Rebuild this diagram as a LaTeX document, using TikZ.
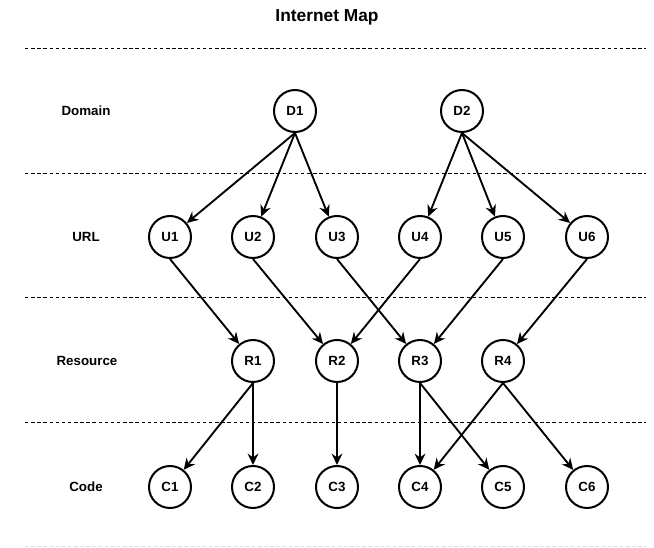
\documentclass[tikz,border=0pt]{standalone}
\usepackage{fontspec}
\setmainfont{Liberation Sans}
\usetikzlibrary{arrows.meta}
\begin{document}
\begin{tikzpicture}[x=0.75pt,y=-0.75pt,
  vtx/.style={circle,draw,line width=1.5pt,minimum size=42*0.75pt,inner sep=0pt,
    font=\bfseries\fontsize{10pt}{12pt}\selectfont},
  rowlabel/.style={font=\bfseries\fontsize{10pt}{12pt}\selectfont},
  sep/.style={dash pattern=on 2.6pt off 2pt,line width=0.75pt},
  link/.style={line width=1.4pt,-{Stealth[length=8.5pt,width=8pt,inset=2.8pt]}}]
\useasboundingbox (0,0) rectangle (654,548);

% title
\node[font=\bfseries\fontsize{13pt}{15pt}\selectfont] (title) at (327,17) {Internet Map};

% layer separators
\coordinate (s0l) at (25,49);  \coordinate (s0r) at (646,49);
\coordinate (s1l) at (25,174); \coordinate (s1r) at (646,174);
\coordinate (s2l) at (25,298); \coordinate (s2r) at (646,298);
\coordinate (s3l) at (25,423); \coordinate (s3r) at (646,423);
\coordinate (s4l) at (25,547); \coordinate (s4r) at (646,547);
\draw[sep] (s0l) -- (s0r);
\draw[sep] (s1l) -- (s1r);
\draw[sep] (s2l) -- (s2r);
\draw[sep] (s3l) -- (s3r);
\draw[sep,draw=black!13] (s4l) -- (s4r);

% row labels
\node[rowlabel] (lDomain) at (86,111) {Domain};
\node[rowlabel] (lURL) at (86,237) {URL};
\node[rowlabel] (lRes) at (87,361) {Resource};
\node[rowlabel] (lCode) at (86,487) {Code};

% domains
\node[vtx] (D1) at (295,111) {D1};
\node[vtx] (D2) at (462,111) {D2};

% URLs
\node[vtx] (U1) at (170,237) {U1};
\node[vtx] (U2) at (253,237) {U2};
\node[vtx] (U3) at (337,237) {U3};
\node[vtx] (U4) at (420,237) {U4};
\node[vtx] (U5) at (503,237) {U5};
\node[vtx] (U6) at (587,237) {U6};

% resources
\node[vtx] (R1) at (253,361) {R1};
\node[vtx] (R2) at (337,361) {R2};
\node[vtx] (R3) at (420,361) {R3};
\node[vtx] (R4) at (503,361) {R4};

% codes
\node[vtx] (C1) at (170,487) {C1};
\node[vtx] (C2) at (253,487) {C2};
\node[vtx] (C3) at (337,487) {C3};
\node[vtx] (C4) at (420,487) {C4};
\node[vtx] (C5) at (503,487) {C5};
\node[vtx] (C6) at (587,487) {C6};

% domain -> url
\draw[link] (D1.south) -- (U1);
\draw[link] (D1.south) -- (U2);
\draw[link] (D1.south) -- (U3);
\draw[link] (D2.south) -- (U4);
\draw[link] (D2.south) -- (U5);
\draw[link] (D2.south) -- (U6);

% url -> resource
\draw[link] (U1.south) -- (R1);
\draw[link] (U2.south) -- (R2);
\draw[link] (U3.south) -- (R3);
\draw[link] (U4.south) -- (R2);
\draw[link] (U5.south) -- (R3);
\draw[link] (U6.south) -- (R4);

% resource -> code
\draw[link] (R1.south) -- (C1);
\draw[link] (R1.south) -- (C2);
\draw[link] (R2.south) -- (C3);
\draw[link] (R3.south) -- (C4);
\draw[link] (R3.south) -- (C5);
\draw[link] (R4.south) -- (C4);
\draw[link] (R4.south) -- (C6);
\end{tikzpicture}
\end{document}
